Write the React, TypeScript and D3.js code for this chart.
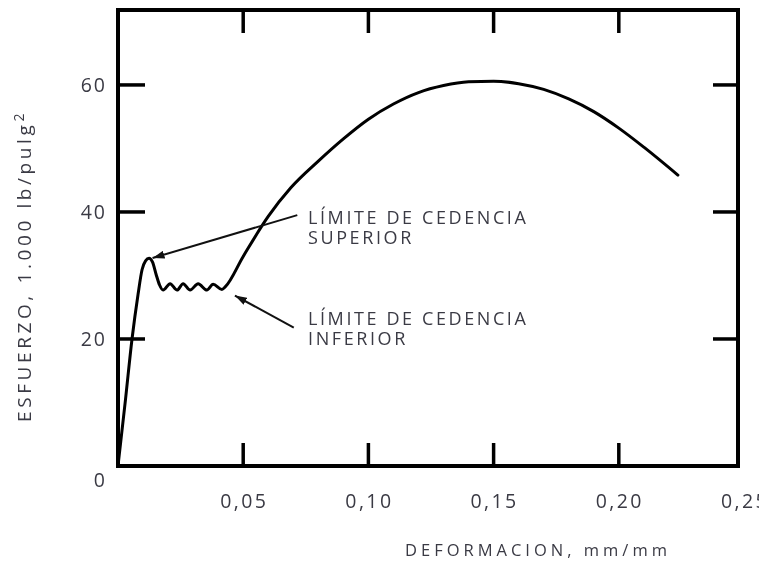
import React, { useEffect, useRef } from 'react';
import * as d3 from 'd3';

// strain (mm/mm) and stress (1.000 lb/pulg2)
const strain = [
  0, 0.003, 0.0056, 0.008, 0.0096, 0.011, 0.0124, 0.0138, 0.0152, 0.0166,
  0.018, 0.0208, 0.0236, 0.026, 0.0288, 0.032, 0.0355, 0.038, 0.0415, 0.0428,
  0.05, 0.06, 0.069, 0.08, 0.09, 0.1, 0.11, 0.12, 0.13, 0.14, 0.15, 0.16,
  0.17, 0.18, 0.19, 0.2, 0.21, 0.2236,
];
const stress = [
  0, 10.5, 20, 27, 30.9, 32.3, 32.7, 32.1, 30.2, 28.5,
  27.7, 28.7, 27.7, 28.7, 27.7, 28.7, 27.7, 28.6, 27.8, 28.2,
  33, 39.3, 43.8, 48, 51.5, 54.6, 57, 58.8, 59.9, 60.5, 60.6, 60.2,
  59.3, 57.8, 55.8, 53.2, 50.2, 45.8,
];

const xTicks = [0.05, 0.1, 0.15, 0.2, 0.25];
const xTickLabels = ['0,05', '0,10', '0,15', '0,20', '0,25'];
const yTicks = [0, 20, 40, 60];
const yTickLabels = ['0', '20', '40', '60'];

const upperPeak = [0.0126, 32.9];
const lowerPoint = [0.0455, 27.0];

const width = 759;
const height = 563;
const margin = { top: 10, right: 21, bottom: 97, left: 118 };
const textColor = '#3a3a44';
const font = "'Open Sans', 'DejaVu Sans', sans-serif";

function App() {
  const ref = useRef<SVGSVGElement>(null);

  useEffect(() => {
    const svg = d3.select(ref.current);
    svg.selectAll('*').remove();

    const x = d3.scaleLinear().domain([0, 0.2476]).range([margin.left, width - margin.right]);
    const y = d3.scaleLinear().domain([0, 71.8]).range([height - margin.bottom, margin.top]);
    const x0 = x.range()[0], x1 = x.range()[1];
    const y0 = y.range()[0], y1 = y.range()[1];

    svg.append('defs').append('marker')
      .attr('id', 'arrow')
      .attr('viewBox', '0 0 12 8')
      .attr('refX', 12)
      .attr('refY', 4)
      .attr('markerWidth', 12)
      .attr('markerHeight', 8)
      .attr('markerUnits', 'userSpaceOnUse')
      .attr('orient', 'auto')
      .append('path')
      .attr('d', 'M0,0 L12,4 L0,8 Z')
      .attr('fill', '#111');

    // frame
    svg.append('rect')
      .attr('x', x0).attr('y', y1)
      .attr('width', x1 - x0).attr('height', y0 - y1)
      .attr('fill', 'none').attr('stroke', '#000').attr('stroke-width', 4);

    // inward ticks on all four sides
    const inX = xTicks.filter(t => x(t) < x1);
    svg.append('g').selectAll('line').data(inX).join('line')
      .attr('x1', d => x(d)).attr('x2', d => x(d))
      .attr('y1', y0).attr('y2', y0 - 23)
      .attr('stroke', '#000').attr('stroke-width', 3.5);
    svg.append('g').selectAll('line').data(inX).join('line')
      .attr('x1', d => x(d)).attr('x2', d => x(d))
      .attr('y1', y1).attr('y2', y1 + 23)
      .attr('stroke', '#000').attr('stroke-width', 3.5);
    const inY = yTicks.filter(t => t > 0);
    svg.append('g').selectAll('line').data(inY).join('line')
      .attr('x1', x0).attr('x2', x0 + 27)
      .attr('y1', d => y(d)).attr('y2', d => y(d))
      .attr('stroke', '#000').attr('stroke-width', 3.5);
    svg.append('g').selectAll('line').data(inY).join('line')
      .attr('x1', x1).attr('x2', x1 - 25)
      .attr('y1', d => y(d)).attr('y2', d => y(d))
      .attr('stroke', '#000').attr('stroke-width', 3.5);

    // tick labels
    svg.append('g').selectAll('text').data(xTicks).join('text')
      .attr('x', d => x(d) + 1).attr('y', y0 + 42)
      .attr('text-anchor', 'middle')
      .attr('font-family', font).attr('font-size', 19.5)
      .attr('letter-spacing', 2.4)
      .attr('fill', textColor)
      .text((d, i) => xTickLabels[i]);
    svg.append('g').selectAll('text').data(yTicks).join('text')
      .attr('x', x0 - 11)
      .attr('y', d => y(d) + (d === 0 ? 21 : 7))
      .attr('text-anchor', 'end')
      .attr('font-family', font).attr('font-size', 19.5)
      .attr('letter-spacing', 2)
      .attr('fill', textColor)
      .text((d, i) => yTickLabels[i]);

    // axis titles
    svg.append('text')
      .attr('x', 538).attr('y', 556)
      .attr('text-anchor', 'middle')
      .attr('font-family', font).attr('font-size', 16.5)
      .attr('letter-spacing', 4)
      .attr('fill', textColor)
      .text('DEFORMACION, mm/mm');
    const yt = svg.append('text')
      .attr('transform', 'translate(31,266) rotate(-90)')
      .attr('text-anchor', 'middle')
      .attr('font-family', font).attr('font-size', 19)
      .attr('letter-spacing', 3.6)
      .attr('fill', textColor);
    yt.append('tspan').text('ESFUERZO, 1.000 lb/pulg');
    yt.append('tspan').attr('dy', -7).attr('font-size', 14).text('2');

    // curve
    const pts = strain.map((s, i) => [s, stress[i]] as [number, number]);
    const line = d3.line<[number, number]>()
      .x(d => x(d[0]))
      .y(d => y(d[1]))
      .curve(d3.curveMonotoneX);
    svg.append('path')
      .datum(pts)
      .attr('d', line)
      .attr('fill', 'none')
      .attr('stroke', '#000')
      .attr('stroke-width', 3)
      .attr('stroke-linejoin', 'round')
      .attr('stroke-linecap', 'round');

    // annotations
    const annos = [
      { tip: upperPeak, from: [0.0716, 39.5], lines: ['LÍMITE DE CEDENCIA', 'SUPERIOR'], ty: 224 },
      { tip: lowerPoint, from: [0.0702, 21.8], lines: ['LÍMITE DE CEDENCIA', 'INFERIOR'], ty: 325 },
    ];
    annos.forEach(a => {
      svg.append('line')
        .attr('x1', x(a.from[0])).attr('y1', y(a.from[1]))
        .attr('x2', x(a.tip[0]) + 3).attr('y2', y(a.tip[1]) + 1)
        .attr('stroke', '#111').attr('stroke-width', 2)
        .attr('marker-end', 'url(#arrow)');
      const t = svg.append('text')
        .attr('font-family', font).attr('font-size', 18)
        .attr('font-weight', 500)
        .attr('letter-spacing', 2.6)
        .attr('fill', textColor);
      a.lines.forEach((l, i) => {
        t.append('tspan').attr('x', 308).attr('y', a.ty + i * 20).text(l);
      });
    });
  }, []);

  return (
    <svg
      ref={ref}
      width={width}
      height={height}
      style={{ position: 'fixed', left: 0, top: 0, display: 'block' }}
    />
  );
}

export default App;
